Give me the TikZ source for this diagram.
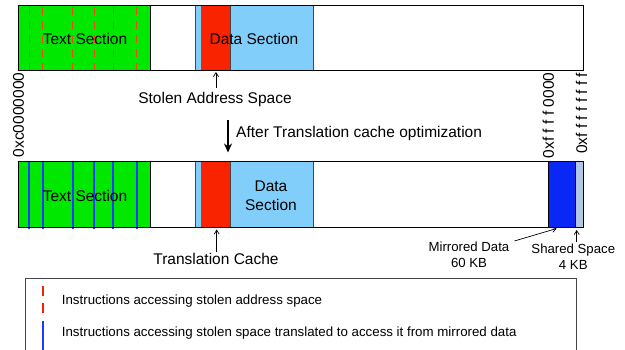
\documentclass[tikz,border=0pt]{standalone}
\usepackage{fontspec}
\setmainfont{Liberation Sans}
\usetikzlibrary{arrows.meta,calc}
\definecolor{secgreen}{RGB}{0,232,0}
\definecolor{datablue}{RGB}{130,206,250}
\definecolor{stolenred}{RGB}{250,35,0}
\definecolor{dashred}{RGB}{238,72,30}
\definecolor{transblue}{RGB}{30,60,255}
\definecolor{mirrorblue}{RGB}{10,40,245}
\definecolor{sharedblue}{RGB}{176,198,228}
\definecolor{edgegray}{RGB}{70,70,70}
\begin{document}
\begin{tikzpicture}[x=1pt,y=-1pt,
 lbl/.style={font=\fontsize{15.5}{19}\selectfont, inner sep=0pt, align=center},
 small/.style={font=\fontsize{13.2}{16}\selectfont, inner sep=0pt, align=center},
 legtxt/.style={font=\fontsize{13.3}{15}\selectfont, inner sep=0pt, anchor=west},
 addr/.style={font=\fontsize{15.5}{17}\selectfont, inner sep=0pt, rotate=90, anchor=east},
 barline/.style={draw=black, line width=0.9pt},
 sepline/.style={draw=edgegray, line width=0.8pt},
 dashline/.style={draw=dashred, line width=1.4pt, dash pattern=on 8pt off 6pt},
 transline/.style={draw=transblue, line width=1.8pt},
 legred/.style={draw=stolenred, line width=1.8pt, dash pattern=on 10pt off 7pt},
 legblue/.style={draw=transblue, line width=1.8pt},
 ptr/.style={-{Straight Barb[length=4pt,width=5pt]}, line width=0.7pt},
 bigarrow/.style={-{Stealth[length=9pt,width=8pt]}, line width=2pt}
]
\clip (0,0) rectangle (625,350);
\fill[white] (0,0) rectangle (625,350);

% ---------- top bar ----------
\fill[secgreen] (18,5) rectangle (150,70.5);
\fill[datablue] (195,5) rectangle (313,70.5);
\fill[stolenred] (201,5) rectangle (230,70.5);
\draw[sepline] (195,5) -- (195,70.5) (230,5) -- (230,70.5) (313,5) -- (313,70.5);
\foreach \x in {29.3,42.7,72.7,94.3,113.3,136.7}
  \draw[dashline] (\x,7) -- (\x,70.5);
\draw[barline] (150,5) -- (150,70.5);
\draw[barline] (18,5) rectangle (583,70.5);
\node[lbl] (text1) at (85,39) {Text Section};
\node[lbl] (data1) at (254,39) {Data Section};

\node[lbl] (stolen) at (215,99) {Stolen Address Space};
\coordinate (stolentip) at (216,72);
\draw[ptr] ($(stolen.north -| stolentip)+(0,-4)$) -- (stolentip);

% ---------- address labels ----------
\node[addr] (addr1) at (18.5,72.5) {0xc0000000};
\node[addr] (addr2) at (548.3,72.5) {0xf f f f 0000};
\node[addr] (addr3) at (581.7,72.5) {0xf f f f f f f f};

% ---------- big arrow ----------
\coordinate (bigtop) at (228,120);
\coordinate (bigtip) at (228,152.5);
\draw[bigarrow] (bigtop) -- (bigtip);
\node[lbl, anchor=west] (after) at (236,133) {After Translation cache optimization};

% ---------- bottom bar ----------
\fill[secgreen] (18,161.7) rectangle (150,227.3);
\fill[datablue] (195,161.7) rectangle (313,227.3);
\fill[stolenred] (201,161.7) rectangle (230,227.3);
\fill[mirrorblue] (548.3,161.7) rectangle (575,227.3);
\fill[sharedblue] (575,161.7) rectangle (583,227.3);
\draw[sepline] (195,161.7) -- (195,227.3) (230,161.7) -- (230,227.3) (313,161.7) -- (313,227.3);
\foreach \x in {29.3,42.7,72.7,94.3,113.3,136.7}
  \draw[transline] (\x,161.7) -- (\x,229);
\draw[barline] (150,161.7) -- (150,227.3) (548.3,161.7) -- (548.3,227.3) (575,161.7) -- (575,227.3);
\draw[barline] (18,161.7) rectangle (583,227.3);
\node[lbl] (text2) at (85,196) {Text Section};
\node[lbl] (data2) at (271,196) {Data\\Section};

\node[lbl] (tcache) at (216,259) {Translation Cache};
\coordinate (tcachetip) at (216.7,229.5);
\draw[ptr] ($(tcache.north -| tcachetip)+(0,-1)$) -- (tcachetip);

\node[small] (mirror) at (469,255) {Mirrored Data\\60 KB};
\coordinate (mirrortip) at (556.7,228.5);
\draw[ptr] ($(mirror.north east)+(5,-1)$) -- (mirrortip);

\node[small] (shared) at (573.3,257) {Shared Space\\4 KB};
\coordinate (sharedtip) at (576.7,230);
\draw[ptr] ($(shared.north -| sharedtip)+(0,-2)$) -- (sharedtip);

% ---------- legend ----------
\draw[sepline] (25,278.3) rectangle (576,370);
\path[legred] (43.3,286) -- (43.3,313);
\path[legblue] (43.3,321) -- (43.3,356);
\node[legtxt] (leg1) at (61.7,300.7) {Instructions accessing stolen address space};
\node[legtxt] (leg2) at (61.7,333.3) {Instructions accessing stolen space translated to access it from mirrored data};
\end{tikzpicture}
\end{document}
